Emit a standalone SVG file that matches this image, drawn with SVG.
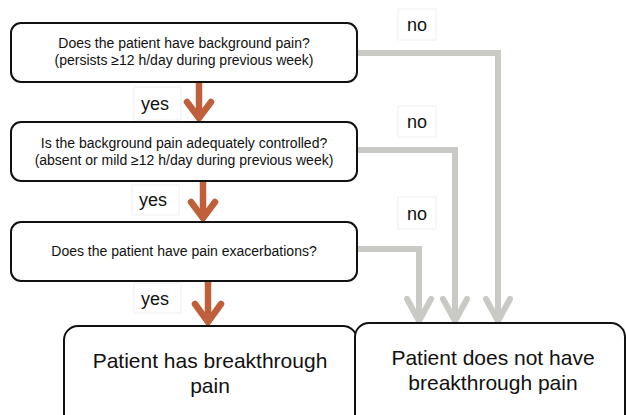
<svg xmlns="http://www.w3.org/2000/svg" width="626" height="415" viewBox="0 0 626 415">
<defs>
<style>
.box{fill:#fff;stroke:#111;stroke-width:2}
.q{font-family:"Liberation Sans",Arial,sans-serif;font-size:14px;fill:#111;text-anchor:middle}
.big{font-family:"Liberation Sans",Arial,sans-serif;font-size:21px;fill:#111;text-anchor:middle}
.lbl{font-family:"Liberation Sans",Arial,sans-serif;font-size:18px;fill:#111;text-anchor:middle}
.lblbox{fill:#fff;stroke:#f0f0f0;stroke-width:1}
.yes{fill:none;stroke:#c0603a;stroke-width:6.5;stroke-linecap:butt}
.yeshead{fill:none;stroke:#c0603a;stroke-width:6.5;stroke-linecap:round;stroke-linejoin:miter}
.no{fill:none;stroke:#c9c9c5;stroke-width:6;stroke-linejoin:miter}
.nohead{fill:none;stroke:#c9c9c5;stroke-width:6;stroke-linecap:round}
</style>
</defs>
<rect width="626" height="415" fill="#fff"/>
<g id="connectors">
<path class="no" d="M357,53 H498 V320"/>
<path class="no" d="M357,150 H455 V320"/>
<path class="no" d="M357,249 H419 V320"/>
<path class="nohead" d="M486,299 L498,321 L510,299"/>
<path class="nohead" d="M443,299 L455,321 L467,299"/>
<path class="nohead" d="M407,299 L419,321 L431,299"/>
<path class="yes" d="M199,82 V118"/>
<path class="yeshead" d="M187,102 L199,118 L211,102"/>
<path class="yes" d="M203,181 V218"/>
<path class="yeshead" d="M191,202 L203,218 L215,202"/>
<path class="yes" d="M208,281 V322"/>
<path class="yeshead" d="M195,304 L208,322 L221,304"/>
</g>
<g id="label-no-1"><rect class="lblbox" x="398" y="9" width="38" height="31"/><text class="lbl" x="417" y="31">no</text></g>
<g id="label-no-2"><rect class="lblbox" x="398" y="106" width="38" height="31"/><text class="lbl" x="417" y="128">no</text></g>
<g id="label-no-3"><rect class="lblbox" x="398" y="197" width="38" height="32"/><text class="lbl" x="417" y="220">no</text></g>
<g id="label-yes-1"><rect class="lblbox" x="134" y="87" width="47" height="33"/><text class="lbl" x="155" y="110">yes</text></g>
<g id="label-yes-2"><rect class="lblbox" x="132" y="185" width="47" height="30"/><text class="lbl" x="153" y="206">yes</text></g>
<g id="label-yes-3"><rect class="lblbox" x="134" y="283" width="47" height="30"/><text class="lbl" x="155" y="305">yes</text></g>
<g id="node-q1">
<rect class="box" x="11" y="23" width="346" height="59" rx="10"/>
<text class="q" x="184" y="48">Does the patient have background pain?</text>
<text class="q" x="184" y="65">(persists ≥12 h/day during previous week)</text>
</g>
<g id="node-q2">
<rect class="box" x="11" y="122" width="346" height="59" rx="10"/>
<text class="q" x="184" y="148">Is  the background pain adequately controlled?</text>
<text class="q" x="184" y="165">(absent or mild ≥12 h/day during previous week)</text>
</g>
<g id="node-q3">
<rect class="box" x="11" y="222" width="346" height="59" rx="10"/>
<text class="q" x="184" y="256">Does the patient have pain exacerbations?</text>
</g>
<g id="node-yes-result">
<rect class="box" x="64" y="326" width="293" height="110" rx="14"/>
<text class="big" x="210" y="368">Patient has breakthrough</text>
<text class="big" x="210" y="393">pain</text>
</g>
<g id="node-no-result">
<rect class="box" x="355" y="323" width="270" height="110" rx="14"/>
<text class="big" x="493" y="365">Patient does not have</text>
<text class="big" x="493" y="390">breakthrough pain</text>
</g>
</svg>
